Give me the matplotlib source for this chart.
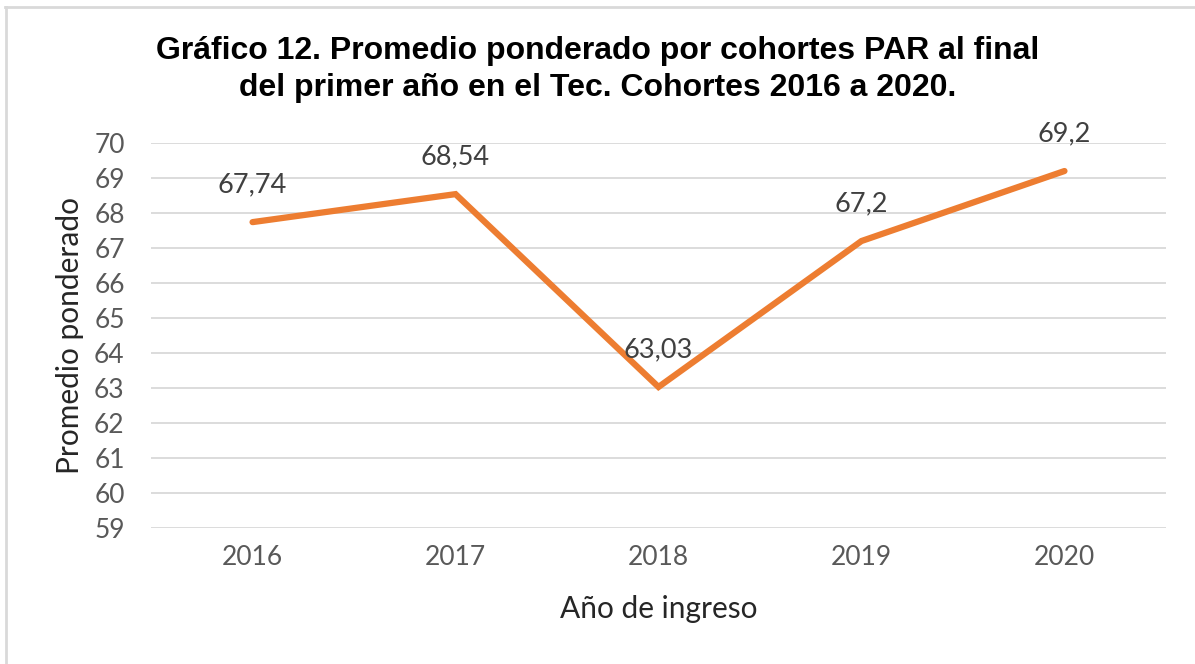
import matplotlib.pyplot as plt
from matplotlib.lines import Line2D

# data
years = ["2016", "2017", "2018", "2019", "2020"]
promedio = [67.74, 68.54, 63.03, 67.2, 69.2]
etiquetas = ["67,74", "68,54", "63,03", "67,2", "69,2"]
yticks = list(range(59, 71))

fig = plt.figure(figsize=(11.95, 6.64), dpi=100)
ax = fig.add_axes([0.1264, 0.2048, 0.8493, 0.5798])

x = list(range(len(years)))
ax.plot(x, promedio, color="#ED7D31", lw=4.5, solid_capstyle="round", solid_joinstyle="miter", zorder=3)

for xi, yi, lab in zip(x, promedio, etiquetas):
    ax.annotate(lab, (xi, yi), xytext=(0, 27), textcoords="offset points",
                ha="center", va="center", fontsize=19.5, color="#404040", family="Lato")

ax.set_xlim(-0.5, len(years) - 0.5)
ax.set_ylim(59, 70)
ax.set_yticks(yticks)
ax.set_xticks(x)
ax.set_xticklabels(years)
ax.grid(axis="y", color="#D9D9D9", lw=1.3)
ax.set_axisbelow(True)
for s in ax.spines.values():
    s.set_visible(False)
ax.tick_params(axis="y", length=0, labelsize=19, labelcolor="#595959", pad=19)
ax.tick_params(axis="x", length=0, labelsize=19, labelcolor="#595959", pad=12)
for t in ax.get_xticklabels() + ax.get_yticklabels():
    t.set_family("Lato")

ax.set_xlabel("Año de ingreso", fontsize=21.5, family="Lato", color="#262626", labelpad=18)
ax.set_ylabel("Promedio ponderado", fontsize=21.5, family="Lato", color="#262626", labelpad=7)

fig.text(0.5, 0.895, "Gráfico 12. Promedio ponderado por cohortes PAR al final\ndel primer año en el Tec. Cohortes 2016 a 2020.",
         ha="center", va="center", fontsize=23, fontweight="bold", family="Liberation Sans",
         color="black", linespacing=1.32)

# outer frame (top and left edges)
fig.add_artist(Line2D([5 / 1195, 1], [1 - 7 / 664, 1 - 7 / 664], color="#D9D9D9", lw=2, transform=fig.transFigure))
fig.add_artist(Line2D([6 / 1195, 6 / 1195], [0, 1 - 7 / 664], color="#D9D9D9", lw=2, transform=fig.transFigure))

fig.savefig("out.png", dpi=100)
